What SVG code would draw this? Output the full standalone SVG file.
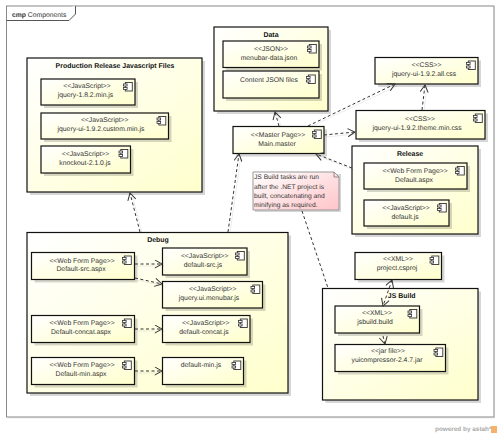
<svg xmlns="http://www.w3.org/2000/svg" xmlns:xlink="http://www.w3.org/1999/xlink" width="500" height="435" viewBox="0 0 500 435">
<style>
text{font-family:"Liberation Sans",Arial,sans-serif;font-size:6.8px;fill:#333;text-anchor:middle;text-rendering:geometricPrecision}
.t{font-weight:bold;fill:#111;font-size:6.95px}
.n{text-anchor:start;font-size:6.7px}
.b{fill:url(#g);stroke:#111;stroke-width:1.2}
.s{fill:#000;fill-opacity:.16}
.c{fill:none;stroke:#333;stroke-width:1;stroke-dasharray:3 2.5}
.cs{fill:none;stroke:#000;stroke-opacity:.08;stroke-width:1}
</style>
<defs>
<linearGradient id="g" x1="0" y1="0" x2="1" y2="1"><stop offset="0" stop-color="#fff"/><stop offset="1" stop-color="#ffffcc"/></linearGradient>
<linearGradient id="p" x1="0" y1="0" x2="1" y2="1"><stop offset="0" stop-color="#fff"/><stop offset="1" stop-color="#ffc4c8"/></linearGradient>
<marker id="o" viewBox="0 0 10 10" refX="9" refY="5" markerWidth="9" markerHeight="9" orient="auto-start-reverse" markerUnits="userSpaceOnUse"><path d="M1 0.5L9 5L1 9.5" fill="none" stroke="#333" stroke-width="1.1"/></marker>
<g id="i"><rect x="1.8" y="0" width="7" height="8.5" fill="#fff" stroke="#333" stroke-width=".9"/><rect x="0" y="1.5" width="3.6" height="2" fill="#fff" stroke="#333" stroke-width=".8"/><rect x="0" y="5" width="3.6" height="2" fill="#fff" stroke="#333" stroke-width=".8"/></g>
</defs>
<rect width="500" height="435" fill="#fff"/>
<g id="frame">
<rect x="8" y="8" width="487" height="411" fill="#000" fill-opacity=".04"/>
<rect x="6.5" y="6" width="487.5" height="411" fill="#fff" stroke="#888" stroke-width="1"/>
<path d="M6.5 20.500H69L75.500 14V6" fill="#fff" stroke="#555" stroke-width="1"/>
<text x="12" y="16.500" style="text-anchor:start"><tspan font-weight="bold">cmp</tspan> Components</text>
</g>
<g id="production">
<rect class="s" x="30" y="61" width="175" height="134"/><rect class="b" x="27" y="58" width="175" height="134"/>
<text class="t" x="115" y="67.500">Production Release Javascript Files</text>
</g>
<g id="jquery182"><rect class="s" x="44" y="82" width="94" height="26"/><rect class="b" x="41" y="79" width="94" height="26"/><use href="#i" x="123.500" y="82.500"/><text x="87" y="88">&lt;&lt;JavaScript&gt;&gt;</text><text x="85.500" y="97">jquery-1.8.2.min.js</text></g>
<g id="jquerycustom"><rect class="s" x="44" y="116" width="127.500" height="26"/><rect class="b" x="41" y="113" width="127.500" height="26"/><use href="#i" x="157" y="116.500"/><text x="104.700" y="122">&lt;&lt;JavaScript&gt;&gt;</text><text x="101" y="131">jquery-ui-1.9.2.custom.min.js</text></g>
<g id="knockout"><rect class="s" x="44" y="149" width="89.500" height="27"/><rect class="b" x="41" y="146" width="89.500" height="27"/><use href="#i" x="119" y="149.500"/><text x="85.500" y="156">&lt;&lt;JavaScript&gt;&gt;</text><text x="85" y="165">knockout-2.1.0.js</text></g>

<g id="data"><rect class="s" x="217" y="30" width="114" height="84"/><rect class="b" x="214" y="27" width="114" height="84"/><text class="t" x="271" y="36.500">Data</text></g>
<g id="menubardata"><rect class="s" x="226" y="44" width="96" height="26.500"/><rect class="b" x="223" y="41" width="96" height="26.500"/><use href="#i" x="307.500" y="44.500"/><text x="271" y="50.500">&lt;&lt;JSON&gt;&gt;</text><text x="269" y="59.500">menubar-data.json</text></g>
<g id="contentjson"><rect class="s" x="226" y="74" width="96" height="27"/><rect class="b" x="223" y="71" width="96" height="27"/><use href="#i" x="306.500" y="75"/><text x="269" y="81.500">Content JSON files</text></g>

<g id="allcss"><rect class="s" x="378" y="60.500" width="103" height="26.500"/><rect class="b" x="375" y="57.500" width="103" height="26.500"/><use href="#i" x="466.500" y="61"/><text x="426.500" y="67">&lt;&lt;CSS&gt;&gt;</text><text x="424" y="76">jquery-ui-1.9.2.all.css</text></g>
<g id="themecss"><rect class="s" x="359" y="113.500" width="129" height="28.500"/><rect class="b" x="356" y="110.500" width="129" height="28.500"/><use href="#i" x="473.500" y="114"/><text x="420" y="120.500">&lt;&lt;CSS&gt;&gt;</text><text x="417" y="129.500">jquery-ui-1.9.2.theme.min.css</text></g>
<g id="mainmaster"><rect class="s" x="236" y="129.500" width="91" height="27"/><rect class="b" x="233" y="126.500" width="91" height="27"/><use href="#i" x="312.500" y="130"/><text x="278" y="136.500">&lt;&lt;Master Page&gt;&gt;</text><text x="277" y="145.500">Main.master</text></g>

<g id="release"><rect class="s" x="355" y="149" width="126" height="88"/><rect class="b" x="352" y="146" width="126" height="88"/><text class="t" x="410" y="156">Release</text></g>
<g id="defaultaspx"><rect class="s" x="367" y="166" width="103" height="26"/><rect class="b" x="364" y="163" width="103" height="26"/><use href="#i" x="455.500" y="166.500"/><text x="415" y="173">&lt;&lt;Web Form Page&gt;&gt;</text><text x="414" y="182">Default.aspx</text></g>
<g id="defaultjs"><rect class="s" x="367" y="203" width="85" height="26"/><rect class="b" x="364" y="200" width="85" height="26"/><use href="#i" x="437.500" y="203.500"/><text x="406" y="210">&lt;&lt;JavaScript&gt;&gt;</text><text x="405" y="219">default.js</text></g>

<g id="note"><path d="M255 174H341V212H255Z" class="s"/><path d="M253 172H334L339 177V210H253Z" fill="url(#p)" stroke="#999" stroke-width="1"/><path d="M334 172V177H339" fill="none" stroke="#777" stroke-width=".8"/>
<text class="n" x="254" y="179">JS Build tasks are run</text><text class="n" x="254" y="188.500">after the .NET project is</text><text class="n" x="254" y="197.500">built, concatenating and</text><text class="n" x="254" y="206.500">minifying as required.</text></g>

<g id="debug"><rect class="s" x="30" y="235.500" width="261" height="160.500"/><rect class="b" x="27" y="232.500" width="261" height="160.500"/><text class="t" x="158" y="241.500">Debug</text></g>
<g id="srcaspx"><rect class="s" x="34.500" y="255.500" width="103" height="27"/><rect class="b" x="31.500" y="252.500" width="103" height="27"/><use href="#i" x="122.500" y="256"/><text x="82" y="262.500">&lt;&lt;Web Form Page&gt;&gt;</text><text x="81" y="271">Default-src.aspx</text></g>
<g id="srcjs"><rect class="s" x="165.500" y="251" width="84.500" height="27"/><rect class="b" x="162.500" y="248" width="84.500" height="27"/><use href="#i" x="235.500" y="251.500"/><text x="204.700" y="258">&lt;&lt;JavaScript&gt;&gt;</text><text x="203" y="267">default-src.js</text></g>
<g id="menubarjs"><rect class="s" x="165.500" y="284.500" width="100" height="26.500"/><rect class="b" x="162.500" y="281.500" width="100" height="26.500"/><use href="#i" x="251" y="285"/><text x="212.700" y="291">&lt;&lt;JavaScript&gt;&gt;</text><text x="209" y="300">jquery.ui.menubar.js</text></g>
<g id="concataspx"><rect class="s" x="34.500" y="318.500" width="103" height="27"/><rect class="b" x="31.500" y="315.500" width="103" height="27"/><use href="#i" x="122.500" y="319"/><text x="82" y="325">&lt;&lt;Web Form Page&gt;&gt;</text><text x="81" y="334">Default-concat.aspx</text></g>
<g id="concatjs"><rect class="s" x="165.500" y="318.500" width="87.500" height="27"/><rect class="b" x="162.500" y="315.500" width="87.500" height="27"/><use href="#i" x="238.500" y="319"/><text x="205.700" y="325">&lt;&lt;JavaScript&gt;&gt;</text><text x="204" y="334">default-concat.js</text></g>
<g id="minaspx"><rect class="s" x="34.500" y="360.500" width="103" height="27"/><rect class="b" x="31.500" y="357.500" width="103" height="27"/><use href="#i" x="122.500" y="361"/><text x="82" y="367">&lt;&lt;Web Form Page&gt;&gt;</text><text x="81" y="376">Default-min.aspx</text></g>
<g id="minjs"><rect class="s" x="165.500" y="360.500" width="81" height="27"/><rect class="b" x="162.500" y="357.500" width="81" height="27"/><use href="#i" x="232" y="361"/><text x="201" y="367">default-min.js</text></g>

<g id="projectcsproj"><rect class="s" x="358" y="255.500" width="86.500" height="27"/><rect class="b" x="355" y="252.500" width="86.500" height="27"/><use href="#i" x="430" y="256"/><text x="398" y="261">&lt;&lt;XML&gt;&gt;</text><text x="397" y="270">project.csproj</text></g>
<g id="jsbuild"><rect class="s" x="325.500" y="291.500" width="155.500" height="111.500"/><rect class="b" x="322.500" y="288.500" width="155.500" height="111.500"/><text class="t" x="401.700" y="298">JS Build</text></g>
<g id="jsbuildbuild"><rect class="s" x="338" y="309" width="84.500" height="27"/><rect class="b" x="335" y="306" width="84.500" height="27"/><use href="#i" x="408" y="309.500"/><text x="377" y="315">&lt;&lt;XML&gt;&gt;</text><text x="375" y="324">jsbuild.build</text></g>
<g id="yui"><rect class="s" x="338" y="347.500" width="110.500" height="27"/><rect class="b" x="335" y="344.500" width="110.500" height="27"/><use href="#i" x="434" y="348"/><text x="388" y="353">&lt;&lt;jar file&gt;&gt;</text><text x="387" y="362">yuicompressor-2.4.7.jar</text></g>

<g id="connectors">
<path class="cs" d="M142 233L132 194M230 233L241 155M281 127L277 113M310 127L397 86M325 137L357 134M424 111L427 86M354 170L318 156M137 266L164 266M137 280L164 286M137 331L164 331M137 373L164 373"/>
<path class="c" d="M140 232L130 193" marker-end="url(#o)"/>
<path class="c" d="M228 232L239 154" marker-end="url(#o)"/>
<path class="c" d="M279 126L275 112" marker-end="url(#o)"/>
<path class="c" d="M308 126L395 84" marker-end="url(#o)"/>
<path class="c" d="M324 135L355 132" marker-end="url(#o)"/>
<path class="c" d="M422 110L425 85" marker-end="url(#o)"/>
<path class="c" d="M352 168L316 154" marker-end="url(#o)"/>
<path class="c" d="M302 211L328 288" stroke-dasharray="2 2"/>
<path class="c" d="M135 264L162 264" marker-end="url(#o)"/>
<path class="c" d="M135 278L162 284" marker-end="url(#o)"/>
<path class="c" d="M135 329L162 329" marker-end="url(#o)"/>
<path class="c" d="M135 371L162 371" marker-end="url(#o)"/>
<path class="c" d="M392 280L383 306" marker-start="url(#o)" marker-end="url(#o)"/>
<path class="c" d="M383 336L385 344" marker-end="url(#o)"/>
</g>
<g id="credit"><text x="435" y="431" style="text-anchor:start;font-size:6.4px;fill:#aaa;font-weight:bold">powered by astah*</text><rect x="491" y="426" width="6" height="7" fill="#f6b26b"/></g>
</svg>
